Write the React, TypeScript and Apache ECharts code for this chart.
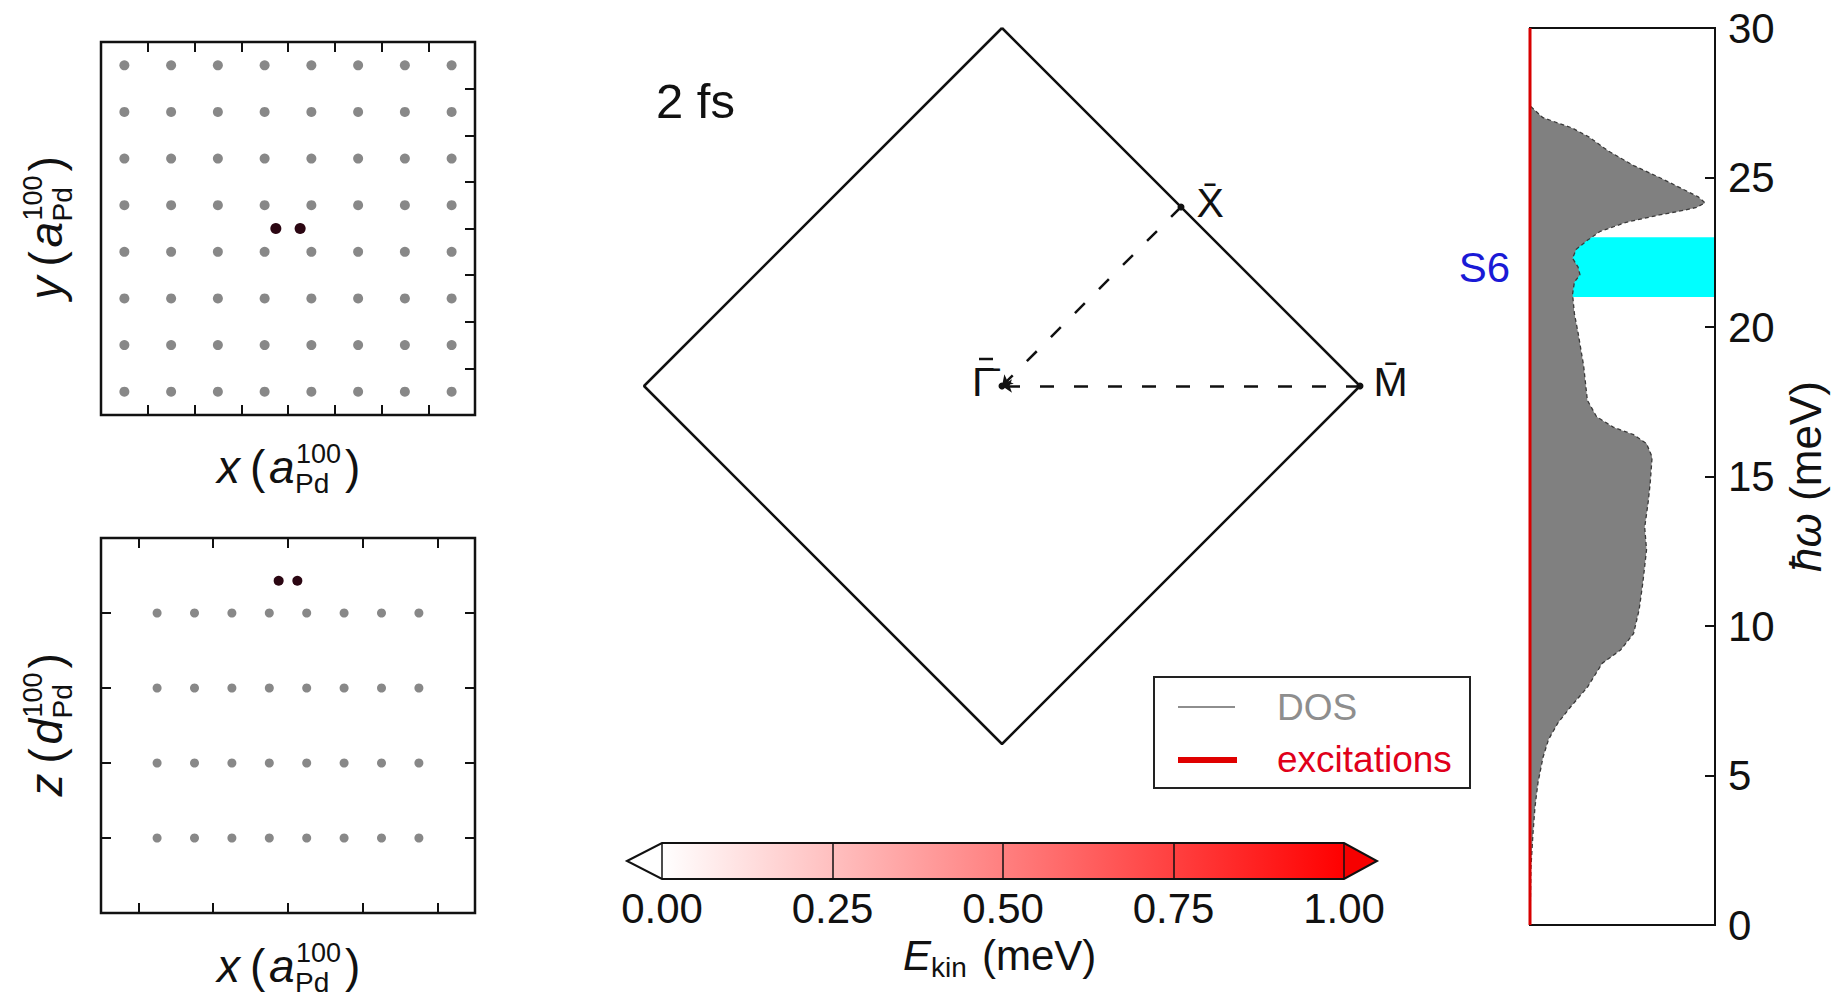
import React, { useEffect, useRef } from 'react';
import * as echarts from 'echarts';

const FONT = '"Liberation Sans", Arial, Helvetica, sans-serif';

// ---- top view (x, y) lattice ----
const topLatticeX = [-3.5, -2.5, -1.5, -0.5, 0.5, 1.5, 2.5, 3.5];
const topLatticeY = [-3.5, -2.5, -1.5, -0.5, 0.5, 1.5, 2.5, 3.5];
const topAdsorbate = [[-0.26, 0], [0.26, 0]];
const topTicks = [-3, -2, -1, 0, 1, 2, 3];

// ---- side view (x, z) lattice ----
const sideLatticeX = [-3.5, -2.5, -1.5, -0.5, 0.5, 1.5, 2.5, 3.5];
const sideLatticeZ = [1, 2, 3, 4];
const sideAdsorbate = [[-0.25, 4.43], [0.25, 4.43]];
const sideTicksX = [-4, -2, 0, 2, 4];
const sideTicksZ = [1, 2, 3, 4];

// ---- surface Brillouin zone ----
const bzOutline = [[0, 1], [1, 0], [0, -1], [-1, 0], [0, 1]];
const bzPointNames = ['\u0393\u0304', 'X\u0304', 'M\u0304'];
const bzPointCoords = [[0, 0], [0.5, 0.5], [1, 0]];
const bzPaths = [[[1, 0], [0, 0]], [[0.5, 0.5], [0, 0]]];

// ---- colour bar ----
const cbarTicks = [0, 0.25, 0.5, 0.75, 1];
const cbarInnerLines = [0.25, 0.5, 0.75];
const cbarRange = [0, 1];

// ---- DOS panel ----
const dosEnergy = [0, 1.9, 3.05, 3.95, 4.75, 5.6, 6.2, 6.75, 7.3, 7.95, 8.75, 9.2, 9.75, 10.55, 11.45, 12.55, 13.3, 14.2, 14.8, 15.65, 16.1, 16.4, 16.65, 17.0, 17.55, 18.7, 19.8, 20.45, 21.1, 21.5, 21.75, 22.0, 22.3, 22.6, 22.9, 23.2, 23.5, 23.75, 23.9, 24.0, 24.15, 24.35, 24.6, 25.0, 25.4, 25.9, 26.35, 26.65, 27.0, 27.4];
const dosValue = [0, 0.005, 0.016, 0.027, 0.043, 0.07, 0.1, 0.15, 0.22, 0.31, 0.39, 0.49, 0.56, 0.59, 0.61, 0.63, 0.62, 0.64, 0.65, 0.66, 0.63, 0.56, 0.45, 0.36, 0.31, 0.29, 0.26, 0.24, 0.23, 0.24, 0.27, 0.26, 0.23, 0.25, 0.31, 0.38, 0.52, 0.7, 0.83, 0.9, 0.946, 0.91, 0.83, 0.7, 0.56, 0.42, 0.32, 0.23, 0.07, 0];
const excitationValue = [0, 0];
const excitationEnergy = [0, 30];
const s6Band = [21, 23];
const energyMin = 0;
const energyMax = 30;
const energyStep = 5;

type Piece = { t: string; dx: number; dy: number; fs: number; italic?: boolean };

function mathLabel(pieces: Piece[], x: number, y: number, rotation = 0, color = '#111') {
  return {
    type: 'group',
    x,
    y,
    rotation,
    silent: true,
    children: pieces.map((p) => ({
      type: 'text',
      x: p.dx,
      y: p.dy - 0.35 * p.fs,
      style: {
        text: p.t,
        fontSize: p.fs,
        fontFamily: FONT,
        fontStyle: p.italic ? 'italic' : 'normal',
        fill: color,
        textAlign: 'left',
        textVerticalAlign: 'middle',
      },
    })),
  };
}

const latticeLabel = (v: string, m: string): Piece[] => [
  { t: v, dx: -71, dy: 0, fs: 46, italic: true },
  { t: '(', dx: -38, dy: 0, fs: 46 },
  { t: m, dx: -19, dy: 0, fs: 46, italic: true },
  { t: 'Pd', dx: 7, dy: 10, fs: 28 },
  { t: '100', dx: 8, dy: -20, fs: 27 },
  { t: ')', dx: 57, dy: 0, fs: 46 },
];

function frameAxis(extra: any) {
  return {
    type: 'value',
    axisLine: { show: false, onZero: false },
    axisLabel: { show: false },
    splitLine: { show: false },
    ...extra,
  };
}

function tickStyle(values: number[]) {
  return { show: true, inside: true, length: 10, customValues: values, lineStyle: { color: '#111', width: 2 } };
}

function buildOption(): any {
  const topLattice: number[][] = [];
  topLatticeX.forEach((x) => topLatticeY.forEach((y) => topLattice.push([x, y])));
  const sideLattice: number[][] = [];
  sideLatticeX.forEach((x) => sideLatticeZ.forEach((z) => sideLattice.push([x, z])));
  const dosPairs = dosEnergy.map((e, i) => [dosValue[i], e]);
  const excitationPairs = excitationEnergy.map((e, i) => [excitationValue[i], e]);

  const bzData = bzPointNames.map((n, i) => {
    const pos = i === 0 ? 'left' : 'right';
    const dist = i === 0 ? 4 : i === 1 ? 12 : 10;
    return {
      name: n,
      value: bzPointCoords[i],
      label: { show: true, position: pos, distance: dist, offset: [0, -4] },
    };
  });

  return {
    animation: false,
    backgroundColor: '#ffffff',
    textStyle: { fontFamily: FONT },
    grid: [
      { left: 101, top: 42, width: 374, height: 373, show: true, borderColor: '#111', borderWidth: 2.5, backgroundColor: 'transparent' },
      { left: 101, top: 538, width: 374, height: 375, show: true, borderColor: '#111', borderWidth: 2.5, backgroundColor: 'transparent' },
      { left: 644, top: 28, width: 716, height: 716, show: false },
      { left: 1530, top: 28, width: 185, height: 897, show: true, borderColor: '#111', borderWidth: 2, backgroundColor: 'transparent' },
      { left: 662, top: 843, width: 682, height: 36, show: false },
    ],
    xAxis: [
      frameAxis({ gridIndex: 0, position: 'bottom', min: -4, max: 4, axisTick: tickStyle(topTicks) }),
      frameAxis({ gridIndex: 0, position: 'top', min: -4, max: 4, axisTick: tickStyle(topTicks) }),
      frameAxis({ gridIndex: 1, position: 'bottom', min: -5, max: 5, axisTick: tickStyle(sideTicksX) }),
      frameAxis({ gridIndex: 1, position: 'top', min: -5, max: 5, axisTick: tickStyle(sideTicksX) }),
      { type: 'value', gridIndex: 2, min: -1, max: 1, show: false },
      { type: 'value', gridIndex: 3, min: 0, max: 1, show: false },
      {
        type: 'value',
        gridIndex: 4,
        min: cbarRange[0],
        max: cbarRange[1],
        position: 'bottom',
        z: 10,
        axisLine: { show: false, onZero: false },
        splitLine: { show: false },
        axisTick: { show: true, inside: true, length: 36, customValues: cbarInnerLines, lineStyle: { color: '#111', width: 1.5 } },
        axisLabel: {
          show: true,
          customValues: cbarTicks,
          margin: 8,
          fontSize: 42,
          fontFamily: FONT,
          color: '#111',
          formatter: (v: number) => v.toFixed(2),
        },
      },
    ],
    yAxis: [
      frameAxis({ gridIndex: 0, position: 'right', min: -4, max: 4, axisTick: tickStyle(topTicks) }),
      frameAxis({ gridIndex: 1, position: 'right', min: 0, max: 5, axisTick: tickStyle(sideTicksZ) }),
      frameAxis({ gridIndex: 1, position: 'left', min: 0, max: 5, axisTick: tickStyle(sideTicksZ) }),
      { type: 'value', gridIndex: 2, min: -1, max: 1, show: false },
      {
        type: 'value',
        gridIndex: 3,
        position: 'right',
        min: energyMin,
        max: energyMax,
        interval: energyStep,
        z: 10,
        axisLine: { show: true, onZero: false, lineStyle: { color: '#111', width: 2 } },
        axisTick: { show: true, inside: true, length: 10, lineStyle: { color: '#111', width: 2 } },
        splitLine: { show: false },
        axisLabel: { show: true, margin: 13, fontSize: 42, fontFamily: FONT, color: '#111' },
        name: '{i|\u0127\u03c9} (meV)',
        nameLocation: 'middle',
        nameRotate: 90,
        nameGap: 68,
        nameTextStyle: {
          fontSize: 44,
          fontFamily: FONT,
          color: '#111',
          rich: { i: { fontSize: 44, fontFamily: FONT, fontStyle: 'italic', color: '#111' } },
        },
      },
      { type: 'value', gridIndex: 4, min: 0, max: 1, show: false },
    ],
    series: [
      {
        name: 'Pd lattice (top)',
        type: 'scatter',
        xAxisIndex: 0,
        yAxisIndex: 0,
        symbolSize: 10,
        itemStyle: { color: '#888888', opacity: 1 },
        data: topLattice,
        silent: true,
      },
      {
        name: 'adsorbate (top)',
        type: 'scatter',
        xAxisIndex: 0,
        yAxisIndex: 0,
        symbolSize: 11,
        itemStyle: { color: '#2b0612', opacity: 1 },
        data: topAdsorbate,
        silent: true,
      },
      {
        name: 'Pd lattice (side)',
        type: 'scatter',
        xAxisIndex: 2,
        yAxisIndex: 1,
        symbolSize: 9,
        itemStyle: { color: '#888888', opacity: 1 },
        data: sideLattice,
        silent: true,
      },
      {
        name: 'adsorbate (side)',
        type: 'scatter',
        xAxisIndex: 2,
        yAxisIndex: 1,
        symbolSize: 10,
        itemStyle: { color: '#2b0612', opacity: 1 },
        data: sideAdsorbate,
        silent: true,
      },
      {
        name: 'SBZ',
        type: 'line',
        xAxisIndex: 4,
        yAxisIndex: 3,
        data: bzOutline,
        showSymbol: false,
        symbol: 'none',
        lineStyle: { color: '#111', width: 2.5 },
        silent: true,
      },
      {
        name: 'paths',
        type: 'lines',
        coordinateSystem: 'cartesian2d',
        xAxisIndex: 4,
        yAxisIndex: 3,
        symbol: ['none', 'arrow'],
        symbolSize: 10,
        lineStyle: { color: '#111', width: 2.5, type: [14, 20], opacity: 1 },
        data: bzPaths.map((c) => ({ coords: c })),
        silent: true,
        z: 3,
      },
      {
        name: 'high symmetry points',
        type: 'scatter',
        xAxisIndex: 4,
        yAxisIndex: 3,
        symbolSize: 7,
        itemStyle: { color: '#111', opacity: 1 },
        label: { fontSize: 41, fontFamily: FONT, color: '#111', formatter: '{b}' },
        data: bzData,
        silent: true,
        z: 4,
      },
      {
        name: 'S6 band',
        type: 'line',
        xAxisIndex: 5,
        yAxisIndex: 4,
        data: dosPairs,
        showSymbol: false,
        symbol: 'none',
        lineStyle: { opacity: 0 },
        z: 1,
        silent: true,
        markArea: {
          silent: true,
          itemStyle: { color: '#00ffff', opacity: 1 },
          label: { show: true, position: 'left', distance: 20, fontSize: 42, fontFamily: FONT, color: '#1a1ad6' },
          data: [[{ name: 'S6', yAxis: s6Band[0] }, { yAxis: s6Band[1] }]],
        },
      },
      {
        name: 'DOS fill',
        type: 'custom',
        coordinateSystem: 'cartesian2d',
        xAxisIndex: 5,
        yAxisIndex: 4,
        z: 2,
        silent: true,
        data: dosPairs,
        renderItem: (params: any, api: any) => {
          if (params.dataIndex !== 0) return null;
          const pts: number[][] = [];
          pts.push(api.coord([0, dosEnergy[0]]));
          for (let i = 0; i < dosEnergy.length; i++) pts.push(api.coord([dosValue[i], dosEnergy[i]]));
          pts.push(api.coord([0, dosEnergy[dosEnergy.length - 1]]));
          return { type: 'polygon', shape: { points: pts }, style: { fill: '#808080', stroke: 'none' } };
        },
      },
      {
        name: 'DOS',
        type: 'line',
        xAxisIndex: 5,
        yAxisIndex: 4,
        data: dosPairs,
        showSymbol: false,
        symbol: 'none',
        z: 3,
        silent: true,
        lineStyle: { color: '#3a3a3a', width: 1.3, type: [4, 3] },
      },
      {
        name: 'excitations',
        type: 'line',
        xAxisIndex: 5,
        yAxisIndex: 4,
        data: excitationPairs,
        showSymbol: false,
        symbol: 'none',
        clip: false,
        z: 5,
        silent: true,
        lineStyle: { color: '#d80000', width: 3 },
      },
      {
        name: 'colorbar',
        type: 'custom',
        coordinateSystem: 'cartesian2d',
        xAxisIndex: 6,
        yAxisIndex: 5,
        silent: true,
        clip: false,
        data: [cbarRange],
        renderItem: (params: any, api: any) => {
          const p0 = api.coord([api.value(0), 0]);
          const p1 = api.coord([api.value(1), 1]);
          const left = p0[0];
          const right = p1[0];
          const bottom = p0[1];
          const top = p1[1];
          const mid = (top + bottom) / 2;
          const tipL = left - 35;
          const tipR = right + 33;
          return {
            type: 'group',
            children: [
              {
                type: 'rect',
                shape: { x: left, y: top, width: right - left, height: bottom - top },
                style: {
                  fill: new echarts.graphic.LinearGradient(0, 0, 1, 0, [
                    { offset: 0, color: '#ffffff' },
                    { offset: 1, color: '#ff0000' },
                  ]),
                },
              },
              { type: 'polygon', shape: { points: [[left, top], [tipL, mid], [left, bottom]] }, style: { fill: '#ffffff' } },
              { type: 'polygon', shape: { points: [[right, top], [tipR, mid], [right, bottom]] }, style: { fill: '#f60000' } },
              {
                type: 'polygon',
                shape: { points: [[tipL, mid], [left, top], [right, top], [tipR, mid], [right, bottom], [left, bottom]] },
                style: { fill: 'none', stroke: '#111', lineWidth: 2 },
              },
              { type: 'line', shape: { x1: left, y1: top, x2: left, y2: bottom }, style: { stroke: '#111', lineWidth: 1.5 } },
              { type: 'line', shape: { x1: right, y1: top, x2: right, y2: bottom }, style: { stroke: '#111', lineWidth: 1.5 } },
            ],
          };
        },
      },
    ],
    graphic: [
      mathLabel(latticeLabel('x', 'a'), 288, 483),
      mathLabel(latticeLabel('y', 'a'), 62, 228.5, Math.PI / 2),
      mathLabel(latticeLabel('x', 'a'), 288, 982),
      mathLabel(latticeLabel('z', 'd'), 62, 725.5, Math.PI / 2),
      mathLabel([{ t: '2 fs', dx: 0, dy: 0, fs: 49 }], 656, 118),
      mathLabel(
        [
          { t: 'E', dx: 0, dy: 0, fs: 42, italic: true },
          { t: 'kin', dx: 28, dy: 7, fs: 28 },
          { t: '(meV)', dx: 79, dy: 0, fs: 42 },
        ],
        903,
        970
      ),
      // accent bar over the Gamma label (the combining macron merges with the glyph's top stroke)
      { type: 'line', silent: true, shape: { x1: 979, y1: 359, x2: 993, y2: 359 }, style: { stroke: '#111', lineWidth: 2.5 } },
      {
        type: 'group',
        silent: true,
        children: [
          { type: 'rect', shape: { x: 1154, y: 677, width: 316, height: 111 }, style: { fill: '#ffffff', stroke: '#222', lineWidth: 2 } },
          { type: 'line', shape: { x1: 1178, y1: 707, x2: 1235, y2: 707 }, style: { stroke: '#8e8e8e', lineWidth: 2 } },
          { type: 'line', shape: { x1: 1178, y1: 760, x2: 1237, y2: 760 }, style: { stroke: '#e00000', lineWidth: 6 } },
          {
            type: 'text',
            x: 1277,
            y: 720 - 0.35 * 37,
            style: { text: 'DOS', fontSize: 37, fontFamily: FONT, fill: '#8e8e8e', textAlign: 'left', textVerticalAlign: 'middle' },
          },
          {
            type: 'text',
            x: 1277,
            y: 772 - 0.35 * 37,
            style: { text: 'excitations', fontSize: 37, fontFamily: FONT, fill: '#e0001a', textAlign: 'left', textVerticalAlign: 'middle' },
          },
        ],
      },
    ],
  };
}

export default function App() {
  const ref = useRef<HTMLDivElement>(null);
  useEffect(() => {
    document.body.style.margin = '0';
    const chart = echarts.init(ref.current as HTMLDivElement, null, { renderer: 'svg' });
    chart.setOption(buildOption());
    return () => chart.dispose();
  }, []);
  return <div ref={ref} style={{ width: 1841, height: 998 }} />;
}
